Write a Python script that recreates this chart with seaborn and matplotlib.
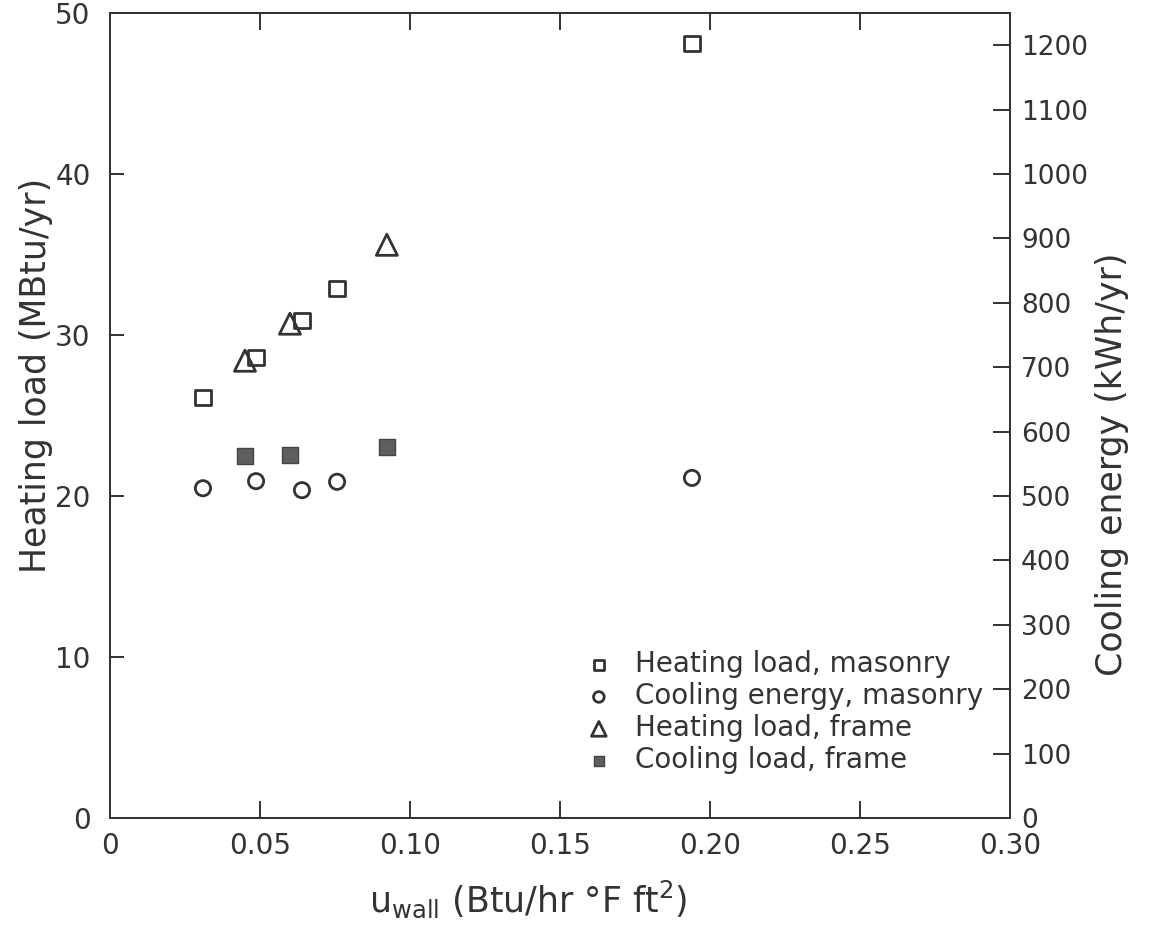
import matplotlib
matplotlib.use("Agg")
import matplotlib.pyplot as plt
import seaborn as sns
import pandas as pd

# ---- data ----
u_masonry = [0.031, 0.0487, 0.064, 0.0757, 0.194]
heat_masonry = [26.1, 28.6, 30.9, 32.9, 48.1]          # MBtu/yr (left axis)
cool_masonry = [512, 523, 509, 522, 528]               # kWh/yr (right axis)

u_frame = [0.045, 0.060, 0.0923]
heat_frame = [28.4, 30.7, 35.6]                        # MBtu/yr (left axis)
cool_frame = [562, 564, 576]                           # kWh/yr (right axis)

x_ticks = [0, 0.05, 0.10, 0.15, 0.20, 0.25, 0.30]
x_ticklabels = ["0", "0.05", "0.10", "0.15", "0.20", "0.25", "0.30"]
left_ticks = [0, 10, 20, 30, 40, 50]
right_ticks = [0, 100, 200, 300, 400, 500, 600, 700, 800, 900, 1000, 1100, 1200]

labels = ["Heating load, masonry", "Cooling energy, masonry",
          "Heating load, frame", "Cooling load, frame"]

sns.set_style("ticks")
plt.rcParams["font.family"] = ["DejaVu Sans"]
ink = "#333333"

fig = plt.figure(figsize=(11.49, 9.39), dpi=100)
ax = fig.add_axes([0.0957, 0.1289, 0.7833, 0.8573])
ax2 = ax.twinx()

df_hm = pd.DataFrame({"u": u_masonry, "v": heat_masonry})
df_cm = pd.DataFrame({"u": u_masonry, "v": cool_masonry})
df_hf = pd.DataFrame({"u": u_frame, "v": heat_frame})
df_cf = pd.DataFrame({"u": u_frame, "v": cool_frame})

sns.scatterplot(data=df_hm, x="u", y="v", ax=ax, marker="s", s=120,
                facecolor="none", edgecolor=ink, linewidth=2.0, label=labels[0], legend=False)
sns.scatterplot(data=df_hf, x="u", y="v", ax=ax, marker="^", s=230,
                facecolor="none", edgecolor=ink, linewidth=2.0, label=labels[2], legend=False)
sns.scatterplot(data=df_cm, x="u", y="v", ax=ax2, marker="o", s=120,
                facecolor="none", edgecolor=ink, linewidth=2.0, label=labels[1], legend=False)
sns.scatterplot(data=df_cf, x="u", y="v", ax=ax2, marker="s", s=120,
                facecolor="#5e5e5e", edgecolor="#444444", linewidth=1.0, label=labels[3], legend=False)

ax.set_xlim(0, 0.30)
ax.set_ylim(0, 50)
ax2.set_ylim(0, 1250)

ax.set_xticks(x_ticks)
ax.set_xticklabels(x_ticklabels)
ax.set_yticks(left_ticks)
ax2.set_yticks(right_ticks)

for a in (ax, ax2):
    for sp in a.spines.values():
        sp.set_visible(True)
        sp.set_color(ink)
        sp.set_linewidth(1.4)

ax.tick_params(axis="x", direction="in", length=12, width=1.4, top=True,
               labelsize=20, colors=ink, pad=10)
ax.tick_params(axis="y", direction="in", length=10, width=1.4,
               labelsize=20, colors=ink, pad=14)
ax2.tick_params(axis="y", direction="in", length=12, width=1.4,
                labelsize=19, colors=ink, pad=8)

ax.set_xlabel(r"u$_{\rm wall}$ (Btu/hr °F ft$^2$)", fontsize=25, color=ink)
ax.set_ylabel("Heating load (MBtu/yr)", fontsize=25, color=ink)
ax2.set_ylabel("Cooling energy (kWh/yr)", fontsize=25, color=ink)
ax.xaxis.set_label_coords(0.465, -0.075)
ax.yaxis.set_label_coords(-0.063, 0.55)
ax2.yaxis.set_label_coords(1.094, 0.44)

h1, l1 = ax.get_legend_handles_labels()
h2, l2 = ax2.get_legend_handles_labels()
hmap = dict(zip(l1 + l2, h1 + h2))
ax2.legend([hmap[l] for l in labels], labels, loc="upper left",
           bbox_to_anchor=(0.50, 0.222), frameon=False, fontsize=20,
           markerscale=0.7, handletextpad=0.3, labelspacing=0.14,
           borderaxespad=0, labelcolor=ink)

fig.savefig("out.png", dpi=100)
